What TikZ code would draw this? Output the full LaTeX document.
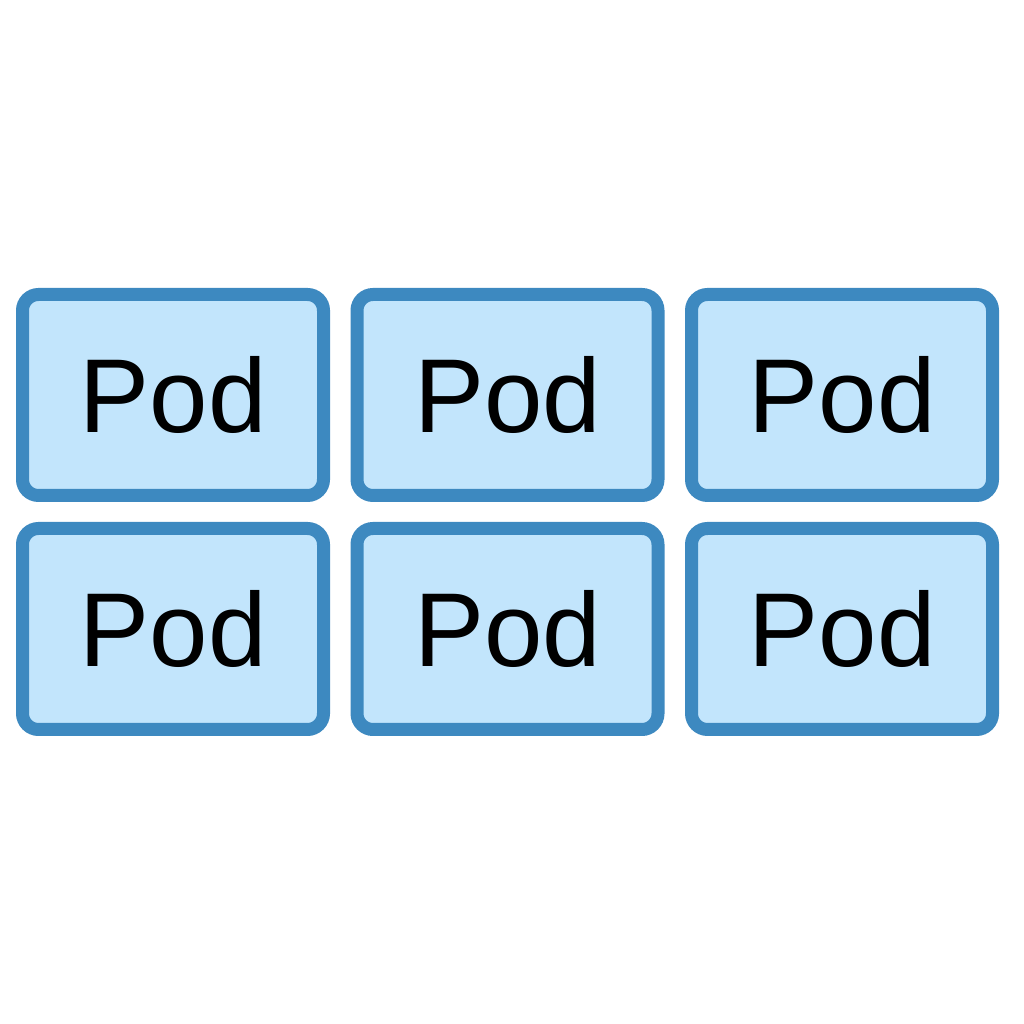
\documentclass[tikz,border=0pt]{standalone}
\usepackage{fontspec}
\setmainfont{Liberation Sans}
\usetikzlibrary{positioning}

\definecolor{podfill}{RGB}{194,229,252}
\definecolor{podline}{RGB}{61,137,192}

\begin{document}
\begin{tikzpicture}[
  x=1pt, y=1pt,
  every node/.style={font=\fontsize{105}{126}\selectfont},
  pod/.style={draw=podline, fill=podfill, line width=13pt,
              rounded corners=16pt, minimum width=301pt,
              minimum height=201pt},
]
\useasboundingbox (0,0) rectangle (1024,1024);

\node[pod] (p1) at (173,629) {Pod};
\node[pod, right=20.5pt of p1] (p2) {Pod};
\node[pod, right=20.5pt of p2] (p3) {Pod};
\node[pod, below=20pt of p1] (p4) {Pod};
\node[pod, right=20.5pt of p4] (p5) {Pod};
\node[pod, right=20.5pt of p5] (p6) {Pod};
\end{tikzpicture}
\end{document}
